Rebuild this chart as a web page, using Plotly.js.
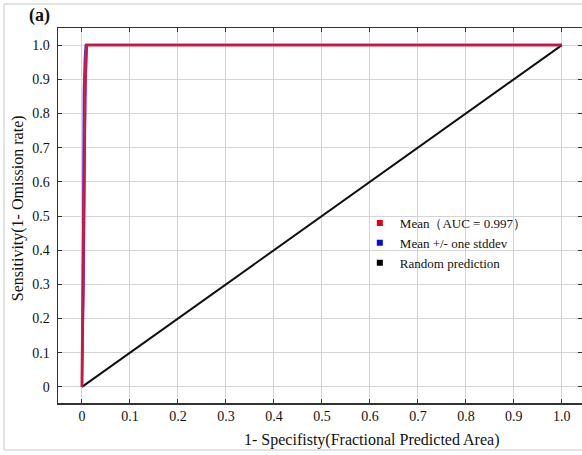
<!DOCTYPE html>
<html>
<head>
<meta charset="utf-8">
<script src="https://cdn.plot.ly/plotly-3.0.1.min.js"></script>
<style>
html,body{margin:0;padding:0;background:#fff;}
#chart{width:582px;height:455px;}
</style>
</head>
<body>
<div id="chart"></div>
<script>
// Data
const meanX = [0, 0.002, 0.004, 0.006, 0.008, 0.0095, 1];
const meanY = [0, 0.30, 0.60, 0.85, 0.96, 1.0, 1.0];
const upperX = [0, 0.001, 0.002, 0.003, 0.005, 0.007, 1];
const upperY = [0, 0.30, 0.50, 0.86, 0.96, 1.0, 1.0];
const lowerX = [0, 0.004, 0.006, 0.007, 0.008, 0.011, 1];
const lowerY = [0, 0.28, 0.60, 0.72, 0.88, 1.0, 1.0];
const randX = [0, 1];
const randY = [0, 1];
const tickVals = [0, 0.1, 0.2, 0.3, 0.4, 0.5, 0.6, 0.7, 0.8, 0.9, 1.0];
const tickText = ['0', '0.1', '0.2', '0.3', '0.4', '0.5', '0.6', '0.7', '0.8', '0.9', '1.0'];
const legendNames = ['Mean\uFF08AUC = 0.997\uFF09', 'Mean +/- one stddev', 'Random prediction'];

const RED = '#d0143c';
const BLUE = '#4030e0';
const FONT = 'Liberation Serif, Times New Roman, serif';

const traces = [
  {x: upperX, y: upperY, mode: 'lines', line: {color: BLUE, width: 1.5}, showlegend: false, hoverinfo: 'skip'},
  {x: lowerX, y: lowerY, mode: 'lines', line: {color: BLUE, width: 1.5}, showlegend: false, hoverinfo: 'skip'},
  {x: randX, y: randY, mode: 'lines', line: {color: '#111', width: 2}, showlegend: false, hoverinfo: 'skip'},
  {x: meanX, y: meanY, mode: 'lines', line: {color: RED, width: 3}, opacity: 0.92, showlegend: false, hoverinfo: 'skip'},
  {x: [null], y: [null], mode: 'markers', name: legendNames[0], marker: {symbol: 'square', size: 6, color: '#e00010'}},
  {x: [null], y: [null], mode: 'markers', name: legendNames[1], marker: {symbol: 'square', size: 6, color: '#0010e0'}},
  {x: [null], y: [null], mode: 'markers', name: legendNames[2], marker: {symbol: 'square', size: 6, color: '#000'}}
];

const layout = {
  width: 582, height: 455,
  margin: {l: 58, r: 0, t: 28, b: 52},
  paper_bgcolor: '#fff', plot_bgcolor: '#fff',
  font: {family: FONT, size: 14, color: '#111'},
  showlegend: true,
  legend: {x: 0.576, y: 0.52, xanchor: 'left', yanchor: 'top', bgcolor: 'rgba(0,0,0,0)',
           font: {family: FONT, size: 13, color: '#111'}, itemwidth: 30, tracegroupgap: 0},
  xaxis: {
    range: [-0.05, 1.042], tickmode: 'array', tickvals: tickVals, ticktext: tickText,
    showgrid: true, gridcolor: '#d4d4d4', gridwidth: 1, zeroline: false,
    showline: true, linecolor: '#333', linewidth: 1.5, mirror: 'ticks',
    ticks: 'inside', ticklen: 4, tickcolor: '#333', tickfont: {family: FONT, size: 14, color: '#111'},
    ticklabelstandoff: 0
  },
  yaxis: {
    range: [-0.047, 1.05], tickmode: 'array', tickvals: tickVals, ticktext: tickText,
    showgrid: true, gridcolor: '#d4d4d4', gridwidth: 1, zeroline: false,
    showline: true, linecolor: '#333', linewidth: 1.5, mirror: 'ticks',
    ticks: 'inside', ticklen: 4, tickcolor: '#333', tickfont: {family: FONT, size: 14, color: '#111'},
    ticklabelstandoff: 4
  },
  annotations: [
    {text: '<b>(a)</b>', xref: 'paper', yref: 'paper', x: -0.012, y: 1.0, xanchor: 'right', yanchor: 'bottom',
     showarrow: false, font: {family: FONT, size: 18, color: '#111'}},
    {text: '1- Specifisty(Fractional Predicted Area)', xref: 'paper', yref: 'paper', x: 0.598, y: -0.068,
     xanchor: 'center', yanchor: 'top', showarrow: false, font: {family: FONT, size: 16, color: '#111'}},
    {text: 'Sensitivity(1- Omission rate)', xref: 'paper', yref: 'paper', x: -0.076, y: 0.52,
     xanchor: 'center', yanchor: 'middle', textangle: -90, showarrow: false, font: {family: FONT, size: 16, color: '#111'}}
  ],
  shapes: [
    {type: 'line', xref: 'paper', yref: 'paper', x0: -0.103, x1: 1.02, y0: 1.064, y1: 1.064, line: {color: '#d8d8d8', width: 1.5}},
    {type: 'line', xref: 'paper', yref: 'paper', x0: -0.103, x1: 1.02, y0: -0.125, y1: -0.125, line: {color: '#d8d8d8', width: 1.5}},
    {type: 'line', xref: 'paper', yref: 'paper', x0: -0.103, x1: -0.103, y0: -0.125, y1: 1.064, line: {color: '#d8d8d8', width: 1.5}}
  ]
};

Plotly.newPlot('chart', traces, layout, {staticPlot: true, displayModeBar: false});
</script>
</body>
</html>
